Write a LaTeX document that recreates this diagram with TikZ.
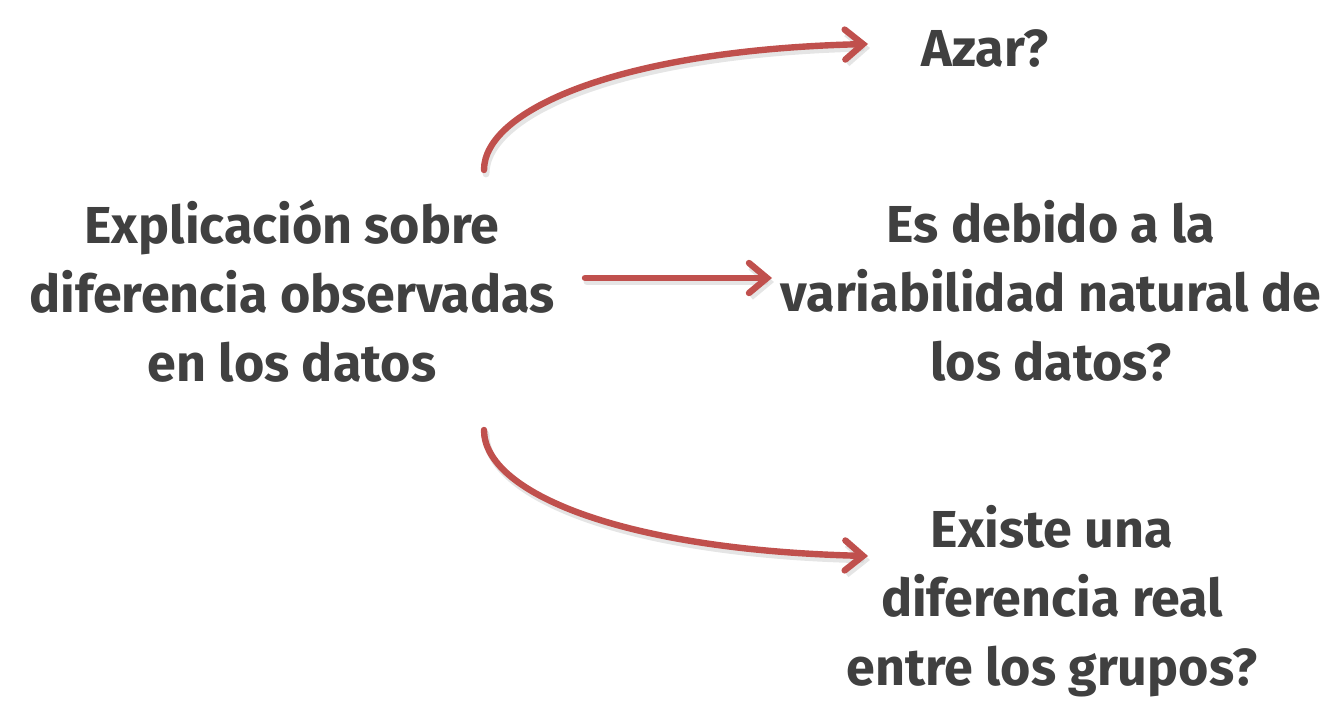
\documentclass[tikz,border=0pt]{standalone}
\usepackage{fontspec}
\setmainfont{Fira Sans}
\usetikzlibrary{arrows.meta}
\definecolor{txt}{HTML}{404040}
\definecolor{arr}{HTML}{C0504D}
\tikzset{
  lbl/.style={align=center, text=txt, font=\fontsize{26}{34.5}\selectfont\bfseries, inner sep=0pt},
  conn/.style={draw=arr, line width=3.2pt, line cap=round, -{Straight Barb[length=9pt,width=15pt,line width=3.2pt,line cap=round]}},
  shade/.style={draw=black!20, line width=3.4pt, line cap=round, opacity=0.5, -{Straight Barb[length=9pt,width=15pt,line width=3.4pt]}}
}
\begin{document}
\begin{tikzpicture}[x=0.5pt,y=-0.5pt]
\useasboundingbox (0,0) rectangle (1332,721);
\node[lbl] (src) at (292,291) {Explicación sobre\\diferencia observadas\\en los datos};
\node[lbl] (azar) at (985,48) {Azar?};
\node[lbl] (var) at (1051,291) {Es debido a la\\variabilidad natural de\\los datos?};
\node[lbl] (real) at (1052,601) {Existe una\\diferencia real\\entre los grupos?};
\coordinate (s1) at (484,170);
\coordinate (s2) at (585,278);
\coordinate (s3) at (484,430);
\coordinate (e1) at (868,44);
\coordinate (e2) at (772,278);
\coordinate (e3) at (868,556);
% shadows
\draw[shade] ([shift={(2,4)}]s1) .. controls ([shift={(2,4)}]484,110) and ([shift={(2,4)}]620,50) .. ([shift={(2,4)}]e1);
\draw[shade] ([shift={(2,4)}]s2) -- ([shift={(2,4)}]e2);
\draw[shade] ([shift={(2,4)}]s3) .. controls ([shift={(2,4)}]484,492) and ([shift={(2,4)}]620,550) .. ([shift={(2,4)}]e3);
% arrows
\draw[conn] (s1) .. controls (484,110) and (620,50) .. (e1);
\draw[conn] (s2) -- (e2);
\draw[conn] (s3) .. controls (484,492) and (620,550) .. (e3);
\end{tikzpicture}
\end{document}
